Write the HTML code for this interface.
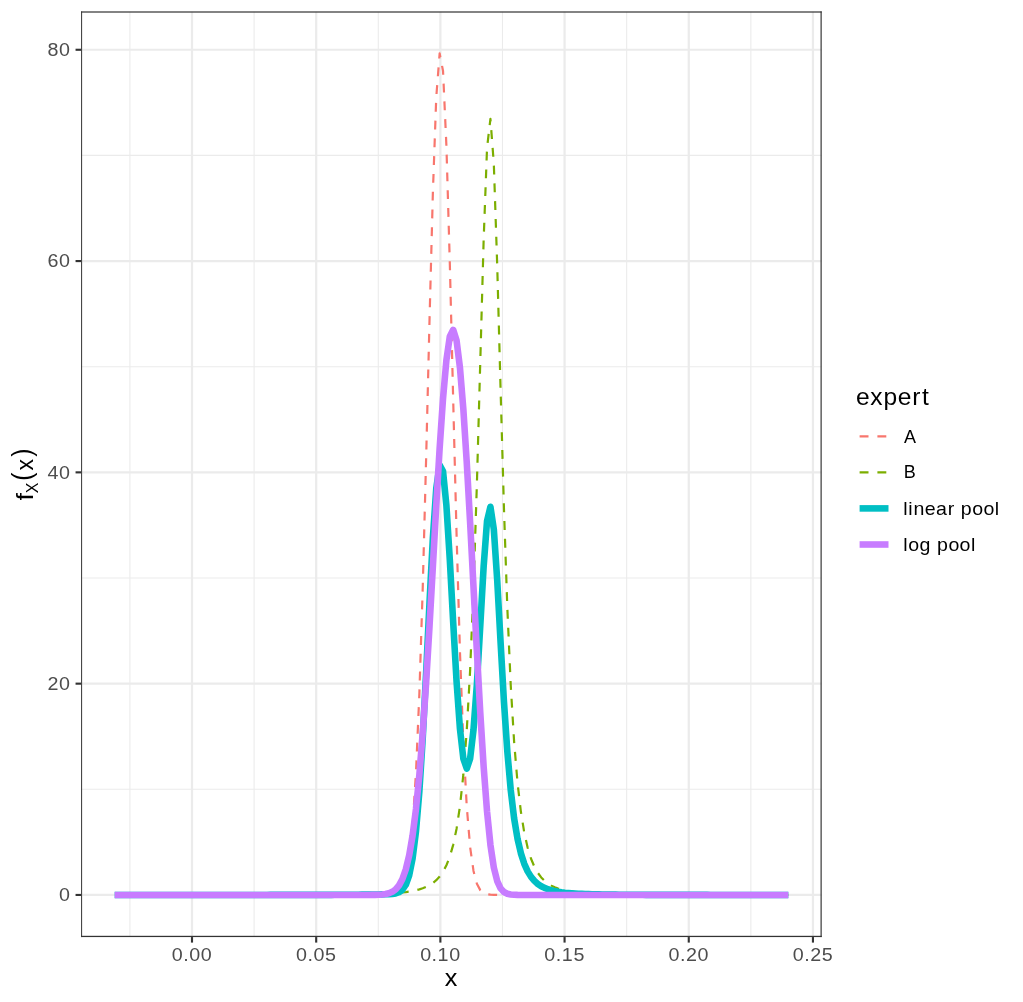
<!DOCTYPE html>
<html><head><meta charset="utf-8"><title>pooling</title>
<style>html,body{margin:0;padding:0;background:#fff;}svg{display:block;}text{font-family:"Liberation Sans",sans-serif;}svg{filter:opacity(1);}</style></head><body>
<svg width="1023" height="1002" viewBox="0 0 1023 1002">
<rect x="0" y="0" width="1023" height="1002" fill="#ffffff"/>
<defs><clipPath id="pc"><rect x="81.10" y="11.40" width="740.60" height="925.65"/></clipPath></defs>
<g clip-path="url(#pc)">
<g stroke="#EBEBEB" stroke-width="1.1" fill="none">
<line x1="129.91" x2="129.91" y1="11.40" y2="937.05"/>
<line x1="254.09" x2="254.09" y1="11.40" y2="937.05"/>
<line x1="378.28" x2="378.28" y1="11.40" y2="937.05"/>
<line x1="502.48" x2="502.48" y1="11.40" y2="937.05"/>
<line x1="626.66" x2="626.66" y1="11.40" y2="937.05"/>
<line x1="750.86" x2="750.86" y1="11.40" y2="937.05"/>
<line x1="81.10" x2="821.70" y1="789.31" y2="789.31"/>
<line x1="81.10" x2="821.70" y1="578.01" y2="578.01"/>
<line x1="81.10" x2="821.70" y1="366.72" y2="366.72"/>
<line x1="81.10" x2="821.70" y1="155.42" y2="155.42"/>
</g>
<g stroke="#EBEBEB" stroke-width="2.2" fill="none">
<line x1="192.00" x2="192.00" y1="11.40" y2="937.05"/>
<line x1="316.19" x2="316.19" y1="11.40" y2="937.05"/>
<line x1="440.38" x2="440.38" y1="11.40" y2="937.05"/>
<line x1="564.57" x2="564.57" y1="11.40" y2="937.05"/>
<line x1="688.76" x2="688.76" y1="11.40" y2="937.05"/>
<line x1="812.95" x2="812.95" y1="11.40" y2="937.05"/>
<line x1="81.10" x2="821.70" y1="894.96" y2="894.96"/>
<line x1="81.10" x2="821.70" y1="683.66" y2="683.66"/>
<line x1="81.10" x2="821.70" y1="472.36" y2="472.36"/>
<line x1="81.10" x2="821.70" y1="261.07" y2="261.07"/>
<line x1="81.10" x2="821.70" y1="49.77" y2="49.77"/>
</g>
<g fill="none" stroke-linejoin="round" stroke-linecap="butt">
<path d="M114.68,894.96 L118.07,894.96 L121.45,894.96 L124.84,894.96 L128.22,894.96 L131.61,894.96 L134.99,894.96 L138.38,894.96 L141.76,894.96 L145.15,894.96 L148.53,894.96 L151.92,894.96 L155.30,894.96 L158.69,894.96 L162.07,894.96 L165.46,894.96 L168.84,894.96 L172.23,894.96 L175.61,894.96 L179.00,894.96 L182.38,894.96 L185.77,894.96 L189.15,894.96 L192.54,894.96 L195.92,894.96 L199.31,894.96 L202.69,894.96 L206.08,894.96 L209.46,894.96 L212.85,894.96 L216.23,894.96 L219.62,894.96 L223.00,894.96 L226.39,894.96 L229.77,894.96 L233.16,894.96 L236.54,894.96 L239.93,894.96 L243.31,894.96 L246.70,894.96 L250.09,894.96 L253.47,894.96 L256.86,894.96 L260.24,894.96 L263.63,894.96 L267.01,894.96 L270.40,894.96 L273.78,894.96 L277.17,894.96 L280.55,894.96 L283.94,894.96 L287.32,894.96 L290.71,894.96 L294.09,894.96 L297.48,894.96 L300.86,894.96 L304.25,894.96 L307.63,894.96 L311.02,894.96 L314.40,894.96 L317.79,894.96 L321.17,894.96 L324.56,894.96 L327.94,894.96 L331.33,894.96 L334.71,894.96 L338.10,894.96 L341.48,894.96 L344.87,894.96 L348.25,894.96 L351.64,894.96 L355.02,894.96 L358.41,894.96 L361.79,894.96 L365.18,894.96 L368.56,894.96 L371.95,894.96 L375.33,894.96 L378.72,894.96 L382.10,894.95 L385.49,894.91 L388.88,894.80 L392.26,894.50 L395.65,893.68 L399.03,891.66 L402.42,887.08 L405.80,877.49 L409.19,859.00 L412.57,826.25 L415.96,773.08 L419.34,694.23 L422.73,588.04 L426.11,459.28 L429.50,320.79 L432.88,192.46 L436.27,96.99 L439.65,53.45 L443.04,71.08 L446.42,146.10 L449.81,263.02 L453.19,399.88 L456.58,534.87 L459.96,651.81 L463.35,742.52 L466.73,806.24 L470.12,847.02 L473.50,870.91 L476.89,883.76 L480.27,890.12 L483.66,893.02 L487.04,894.24 L490.43,894.71 L493.81,894.88 L497.20,894.94 L500.58,894.95 L503.97,894.96 L507.35,894.96 L510.74,894.96 L514.12,894.96 L517.51,894.96 L520.90,894.96 L524.28,894.96 L527.67,894.96 L531.05,894.96 L534.44,894.96 L537.82,894.96 L541.21,894.96 L544.59,894.96 L547.98,894.96 L551.36,894.96 L554.75,894.96 L558.13,894.96 L561.52,894.96 L564.90,894.96 L568.29,894.96 L571.67,894.96 L575.06,894.96 L578.44,894.96 L581.83,894.96 L585.21,894.96 L588.60,894.96 L591.98,894.96 L595.37,894.96 L598.75,894.96 L602.14,894.96 L605.52,894.96 L608.91,894.96 L612.29,894.96 L615.68,894.96 L619.06,894.96 L622.45,894.96 L625.83,894.96 L629.22,894.96 L632.60,894.96 L635.99,894.96 L639.37,894.96 L642.76,894.96 L646.14,894.96 L649.53,894.96 L652.91,894.96 L656.30,894.96 L659.69,894.96 L663.07,894.96 L666.46,894.96 L669.84,894.96 L673.23,894.96 L676.61,894.96 L680.00,894.96 L683.38,894.96 L686.77,894.96 L690.15,894.96 L693.54,894.96 L696.92,894.96 L700.31,894.96 L703.69,894.96 L707.08,894.96 L710.46,894.96 L713.85,894.96 L717.23,894.96 L720.62,894.96 L724.00,894.96 L727.39,894.96 L730.77,894.96 L734.16,894.96 L737.54,894.96 L740.93,894.96 L744.31,894.96 L747.70,894.96 L751.08,894.96 L754.47,894.96 L757.85,894.96 L761.24,894.96 L764.62,894.96 L768.01,894.96 L771.39,894.96 L774.78,894.96 L778.16,894.96 L781.55,894.96 L784.93,894.96 L788.32,894.96" stroke="#F8766D" stroke-width="2.2" stroke-dasharray="8.89 8.89" stroke-dashoffset="17.04"/>
<path d="M114.68,894.95 L118.07,894.95 L121.45,894.95 L124.84,894.95 L128.22,894.95 L131.61,894.95 L134.99,894.95 L138.38,894.95 L141.76,894.95 L145.15,894.95 L148.53,894.95 L151.92,894.95 L155.30,894.95 L158.69,894.95 L162.07,894.95 L165.46,894.95 L168.84,894.94 L172.23,894.94 L175.61,894.94 L179.00,894.94 L182.38,894.94 L185.77,894.94 L189.15,894.94 L192.54,894.94 L195.92,894.94 L199.31,894.94 L202.69,894.94 L206.08,894.93 L209.46,894.93 L212.85,894.93 L216.23,894.93 L219.62,894.93 L223.00,894.93 L226.39,894.93 L229.77,894.92 L233.16,894.92 L236.54,894.92 L239.93,894.92 L243.31,894.92 L246.70,894.91 L250.09,894.91 L253.47,894.91 L256.86,894.90 L260.24,894.90 L263.63,894.90 L267.01,894.89 L270.40,894.89 L273.78,894.89 L277.17,894.88 L280.55,894.88 L283.94,894.87 L287.32,894.86 L290.71,894.86 L294.09,894.85 L297.48,894.84 L300.86,894.83 L304.25,894.82 L307.63,894.81 L311.02,894.80 L314.40,894.79 L317.79,894.78 L321.17,894.76 L324.56,894.75 L327.94,894.73 L331.33,894.71 L334.71,894.69 L338.10,894.66 L341.48,894.63 L344.87,894.60 L348.25,894.57 L351.64,894.53 L355.02,894.48 L358.41,894.43 L361.79,894.38 L365.18,894.32 L368.56,894.24 L371.95,894.16 L375.33,894.06 L378.72,893.95 L382.10,893.83 L385.49,893.68 L388.88,893.51 L392.26,893.31 L395.65,893.07 L399.03,892.79 L402.42,892.45 L405.80,892.05 L409.19,891.57 L412.57,890.98 L415.96,890.27 L419.34,889.39 L422.73,888.30 L426.11,886.93 L429.50,885.21 L432.88,883.02 L436.27,880.20 L439.65,876.53 L443.04,871.70 L446.42,865.27 L449.81,856.63 L453.19,844.85 L456.58,828.65 L459.96,806.15 L463.35,774.74 L466.73,730.88 L470.12,670.26 L473.50,588.60 L476.89,484.02 L480.27,361.71 L483.66,239.42 L487.04,147.91 L490.43,118.80 L493.81,163.65 L497.20,264.94 L500.58,389.51 L503.97,508.92 L507.35,608.56 L510.74,685.29 L514.12,741.83 L517.51,782.59 L520.90,811.77 L524.28,832.69 L527.67,847.78 L531.05,858.76 L534.44,866.85 L537.82,872.88 L541.21,877.42 L544.59,880.88 L547.98,883.55 L551.36,885.63 L554.75,887.26 L558.13,888.56 L561.52,889.60 L564.90,890.44 L568.29,891.12 L571.67,891.68 L575.06,892.15 L578.44,892.53 L581.83,892.85 L585.21,893.12 L588.60,893.35 L591.98,893.55 L595.37,893.71 L598.75,893.86 L602.14,893.98 L605.52,894.09 L608.91,894.18 L612.29,894.26 L615.68,894.33 L619.06,894.39 L622.45,894.45 L625.83,894.49 L629.22,894.54 L632.60,894.58 L635.99,894.61 L639.37,894.64 L642.76,894.67 L646.14,894.69 L649.53,894.71 L652.91,894.73 L656.30,894.75 L659.69,894.77 L663.07,894.78 L666.46,894.79 L669.84,894.81 L673.23,894.82 L676.61,894.83 L680.00,894.84 L683.38,894.84 L686.77,894.85 L690.15,894.86 L693.54,894.87 L696.92,894.87 L700.31,894.88 L703.69,894.88 L707.08,894.89 L710.46,894.89 L713.85,894.89 L717.23,894.90 L720.62,894.90 L724.00,894.91 L727.39,894.91 L730.77,894.91 L734.16,894.91 L737.54,894.92 L740.93,894.92 L744.31,894.92 L747.70,894.92 L751.08,894.92 L754.47,894.93 L757.85,894.93 L761.24,894.93 L764.62,894.93 L768.01,894.93 L771.39,894.93 L774.78,894.93 L778.16,894.94 L781.55,894.94 L784.93,894.94 L788.32,894.94" stroke="#7CAE00" stroke-width="2.2" stroke-dasharray="8.89 8.89" stroke-dashoffset="17.06"/>
<path d="M114.68,894.96 L118.07,894.96 L121.45,894.96 L124.84,894.96 L128.22,894.96 L131.61,894.96 L134.99,894.95 L138.38,894.95 L141.76,894.95 L145.15,894.95 L148.53,894.95 L151.92,894.95 L155.30,894.95 L158.69,894.95 L162.07,894.95 L165.46,894.95 L168.84,894.95 L172.23,894.95 L175.61,894.95 L179.00,894.95 L182.38,894.95 L185.77,894.95 L189.15,894.95 L192.54,894.95 L195.92,894.95 L199.31,894.95 L202.69,894.95 L206.08,894.95 L209.46,894.95 L212.85,894.95 L216.23,894.95 L219.62,894.94 L223.00,894.94 L226.39,894.94 L229.77,894.94 L233.16,894.94 L236.54,894.94 L239.93,894.94 L243.31,894.94 L246.70,894.94 L250.09,894.94 L253.47,894.93 L256.86,894.93 L260.24,894.93 L263.63,894.93 L267.01,894.93 L270.40,894.92 L273.78,894.92 L277.17,894.92 L280.55,894.92 L283.94,894.91 L287.32,894.91 L290.71,894.91 L294.09,894.90 L297.48,894.90 L300.86,894.90 L304.25,894.89 L307.63,894.89 L311.02,894.88 L314.40,894.88 L317.79,894.87 L321.17,894.86 L324.56,894.85 L327.94,894.84 L331.33,894.83 L334.71,894.82 L338.10,894.81 L341.48,894.80 L344.87,894.78 L348.25,894.76 L351.64,894.74 L355.02,894.72 L358.41,894.70 L361.79,894.67 L365.18,894.64 L368.56,894.60 L371.95,894.56 L375.33,894.51 L378.72,894.46 L382.10,894.39 L385.49,894.30 L388.88,894.16 L392.26,893.90 L395.65,893.37 L399.03,892.22 L402.42,889.77 L405.80,884.77 L409.19,875.29 L412.57,858.62 L415.96,831.67 L419.34,791.81 L422.73,738.17 L426.11,673.11 L429.50,603.00 L432.88,537.74 L436.27,488.59 L439.65,464.99 L443.04,471.39 L446.42,505.69 L449.81,559.83 L453.19,622.37 L456.58,681.76 L459.96,728.98 L463.35,758.63 L466.73,768.56 L470.12,758.64 L473.50,729.75 L476.89,683.89 L480.27,625.92 L483.66,566.22 L487.04,521.07 L490.43,506.75 L493.81,529.27 L497.20,579.94 L500.58,642.23 L503.97,701.94 L507.35,751.76 L510.74,790.13 L514.12,818.39 L517.51,838.78 L520.90,853.37 L524.28,863.82 L527.67,871.37 L531.05,876.86 L534.44,880.91 L537.82,883.92 L541.21,886.19 L544.59,887.92 L547.98,889.26 L551.36,890.29 L554.75,891.11 L558.13,891.76 L561.52,892.28 L564.90,892.70 L568.29,893.04 L571.67,893.32 L575.06,893.55 L578.44,893.75 L581.83,893.91 L585.21,894.04 L588.60,894.16 L591.98,894.25 L595.37,894.34 L598.75,894.41 L602.14,894.47 L605.52,894.52 L608.91,894.57 L612.29,894.61 L615.68,894.64 L619.06,894.68 L622.45,894.70 L625.83,894.73 L629.22,894.75 L632.60,894.77 L635.99,894.78 L639.37,894.80 L642.76,894.81 L646.14,894.83 L649.53,894.84 L652.91,894.85 L656.30,894.85 L659.69,894.86 L663.07,894.87 L666.46,894.88 L669.84,894.88 L673.23,894.89 L676.61,894.89 L680.00,894.90 L683.38,894.90 L686.77,894.91 L690.15,894.91 L693.54,894.91 L696.92,894.92 L700.31,894.92 L703.69,894.92 L707.08,894.92 L710.46,894.93 L713.85,894.93 L717.23,894.93 L720.62,894.93 L724.00,894.93 L727.39,894.93 L730.77,894.94 L734.16,894.94 L737.54,894.94 L740.93,894.94 L744.31,894.94 L747.70,894.94 L751.08,894.94 L754.47,894.94 L757.85,894.94 L761.24,894.94 L764.62,894.95 L768.01,894.95 L771.39,894.95 L774.78,894.95 L778.16,894.95 L781.55,894.95 L784.93,894.95 L788.32,894.95" stroke="#00BFC4" stroke-width="6.6"/>
<path d="M114.68,894.96 L118.07,894.96 L121.45,894.96 L124.84,894.96 L128.22,894.96 L131.61,894.96 L134.99,894.96 L138.38,894.96 L141.76,894.96 L145.15,894.96 L148.53,894.96 L151.92,894.96 L155.30,894.96 L158.69,894.96 L162.07,894.96 L165.46,894.96 L168.84,894.96 L172.23,894.96 L175.61,894.96 L179.00,894.96 L182.38,894.96 L185.77,894.96 L189.15,894.96 L192.54,894.96 L195.92,894.96 L199.31,894.96 L202.69,894.96 L206.08,894.96 L209.46,894.96 L212.85,894.96 L216.23,894.96 L219.62,894.96 L223.00,894.96 L226.39,894.96 L229.77,894.96 L233.16,894.96 L236.54,894.96 L239.93,894.96 L243.31,894.96 L246.70,894.96 L250.09,894.96 L253.47,894.96 L256.86,894.96 L260.24,894.96 L263.63,894.96 L267.01,894.96 L270.40,894.96 L273.78,894.96 L277.17,894.96 L280.55,894.96 L283.94,894.96 L287.32,894.96 L290.71,894.96 L294.09,894.96 L297.48,894.96 L300.86,894.96 L304.25,894.96 L307.63,894.96 L311.02,894.96 L314.40,894.96 L317.79,894.96 L321.17,894.96 L324.56,894.96 L327.94,894.96 L331.33,894.96 L334.71,894.96 L338.10,894.96 L341.48,894.96 L344.87,894.96 L348.25,894.96 L351.64,894.96 L355.02,894.96 L358.41,894.96 L361.79,894.96 L365.18,894.95 L368.56,894.94 L371.95,894.91 L375.33,894.86 L378.72,894.74 L382.10,894.51 L385.49,894.07 L388.88,893.26 L392.26,891.82 L395.65,889.37 L399.03,885.35 L402.42,879.01 L405.80,869.39 L409.19,855.34 L412.57,835.66 L415.96,809.17 L419.34,774.98 L422.73,732.73 L426.11,682.80 L429.50,626.55 L432.88,566.35 L436.27,505.53 L439.65,448.09 L443.04,398.25 L446.42,360.00 L449.81,336.53 L453.19,329.85 L456.58,340.54 L459.96,367.72 L463.35,409.25 L466.73,462.07 L470.12,522.58 L473.50,586.99 L476.89,651.54 L480.27,712.63 L483.66,766.88 L487.04,811.49 L490.43,844.91 L493.81,867.43 L497.20,881.01 L500.58,888.38 L503.97,892.05 L507.35,893.73 L510.74,894.47 L514.12,894.77 L517.51,894.89 L520.90,894.93 L524.28,894.95 L527.67,894.96 L531.05,894.96 L534.44,894.96 L537.82,894.96 L541.21,894.96 L544.59,894.96 L547.98,894.96 L551.36,894.96 L554.75,894.96 L558.13,894.96 L561.52,894.96 L564.90,894.96 L568.29,894.96 L571.67,894.96 L575.06,894.96 L578.44,894.96 L581.83,894.96 L585.21,894.96 L588.60,894.96 L591.98,894.96 L595.37,894.96 L598.75,894.96 L602.14,894.96 L605.52,894.96 L608.91,894.96 L612.29,894.96 L615.68,894.96 L619.06,894.96 L622.45,894.96 L625.83,894.96 L629.22,894.96 L632.60,894.96 L635.99,894.96 L639.37,894.96 L642.76,894.96 L646.14,894.96 L649.53,894.96 L652.91,894.96 L656.30,894.96 L659.69,894.96 L663.07,894.96 L666.46,894.96 L669.84,894.96 L673.23,894.96 L676.61,894.96 L680.00,894.96 L683.38,894.96 L686.77,894.96 L690.15,894.96 L693.54,894.96 L696.92,894.96 L700.31,894.96 L703.69,894.96 L707.08,894.96 L710.46,894.96 L713.85,894.96 L717.23,894.96 L720.62,894.96 L724.00,894.96 L727.39,894.96 L730.77,894.96 L734.16,894.96 L737.54,894.96 L740.93,894.96 L744.31,894.96 L747.70,894.96 L751.08,894.96 L754.47,894.96 L757.85,894.96 L761.24,894.96 L764.62,894.96 L768.01,894.96 L771.39,894.96 L774.78,894.96 L778.16,894.96 L781.55,894.96 L784.93,894.96 L788.32,894.96" stroke="#C77CFF" stroke-width="6.6"/>
</g>
</g>
<g fill="#333333">
<rect x="81.1" y="11.4" width="1.0" height="925.67"/>
<rect x="820.53" y="11.4" width="1.17" height="925.67"/>
<rect x="81.1" y="11.4" width="740.6" height="1.2"/>
<rect x="81.1" y="935.8" width="740.6" height="1.27"/>
</g>
<g stroke="#333333" stroke-width="2.13" fill="none">
<line x1="192.00" x2="192.00" y1="937.05" y2="942.60"/>
<line x1="316.19" x2="316.19" y1="937.05" y2="942.60"/>
<line x1="440.38" x2="440.38" y1="937.05" y2="942.60"/>
<line x1="564.57" x2="564.57" y1="937.05" y2="942.60"/>
<line x1="688.76" x2="688.76" y1="937.05" y2="942.60"/>
<line x1="812.95" x2="812.95" y1="937.05" y2="942.60"/>
<line x1="75.55" x2="81.10" y1="894.96" y2="894.96"/>
<line x1="75.55" x2="81.10" y1="683.66" y2="683.66"/>
<line x1="75.55" x2="81.10" y1="472.36" y2="472.36"/>
<line x1="75.55" x2="81.10" y1="261.07" y2="261.07"/>
<line x1="75.55" x2="81.10" y1="49.77" y2="49.77"/>
</g>
<text transform="scale(1.0800,1)" x="159.05 169.67 175.21 185.99" y="960.70" font-size="18.25" fill="#4D4D4D">0.00</text>
<text transform="scale(1.0800,1)" x="274.04 284.66 290.20 300.98" y="960.70" font-size="18.25" fill="#4D4D4D">0.05</text>
<text transform="scale(1.0800,1)" x="389.03 399.65 405.19 415.97" y="960.70" font-size="18.25" fill="#4D4D4D">0.10</text>
<text transform="scale(1.0800,1)" x="504.02 514.64 520.19 530.96" y="960.70" font-size="18.25" fill="#4D4D4D">0.15</text>
<text transform="scale(1.0800,1)" x="619.01 629.63 635.18 645.95" y="960.70" font-size="18.25" fill="#4D4D4D">0.20</text>
<text transform="scale(1.0800,1)" x="734.00 744.62 750.17 760.94" y="960.70" font-size="18.25" fill="#4D4D4D">0.25</text>
<text transform="scale(1.0800,1)" x="54.72" y="901.26" font-size="18.25" fill="#4D4D4D">0</text>
<text transform="scale(1.0800,1)" x="43.95 54.72" y="689.96" font-size="18.25" fill="#4D4D4D">20</text>
<text transform="scale(1.0800,1)" x="43.95 54.72" y="478.66" font-size="18.25" fill="#4D4D4D">40</text>
<text transform="scale(1.0800,1)" x="43.95 54.72" y="267.37" font-size="18.25" fill="#4D4D4D">60</text>
<text transform="scale(1.0800,1)" x="43.95 54.72" y="56.07" font-size="18.25" fill="#4D4D4D">80</text>
<g fill="#000000" font-size="23">
<text x="451.1" y="985.5" text-anchor="middle" textLength="12.6" lengthAdjust="spacingAndGlyphs">x</text>
<g transform="translate(32.7,500.9) rotate(-90)">
<text transform="translate(4.1,0) scale(1.15,1)" x="0" y="0" text-anchor="middle">f</text>
<text x="13.0" y="4.9" text-anchor="middle" font-size="16">X</text>
<text transform="translate(24.3,-1.7) scale(0.88,1)" x="0" y="0" text-anchor="middle" font-size="28">(</text>
<text x="36.1" y="0" text-anchor="middle">x</text>
<text transform="translate(48.2,-1.7) scale(0.88,1)" x="0" y="0" text-anchor="middle" font-size="28">)</text>
</g>
</g>
<text transform="scale(1.0700,1)" x="799.91 813.39 825.79 839.07 852.55 861.72" y="404.60" font-size="23.00" fill="#000000">expert</text>
<g fill="none" stroke-linecap="butt">
<line x1="859.6" x2="888.5" y1="436.4" y2="436.4" stroke="#F8766D" stroke-width="2.2" stroke-dasharray="8.9 8.9"/>
<line x1="859.6" x2="888.5" y1="472.4" y2="472.4" stroke="#7CAE00" stroke-width="2.2" stroke-dasharray="8.9 8.9"/>
<line x1="859.6" x2="888.5" y1="508.4" y2="508.4" stroke="#00BFC4" stroke-width="6.6"/>
<line x1="859.6" x2="888.5" y1="544.5" y2="544.5" stroke="#C77CFF" stroke-width="6.6"/>
</g>
<text transform="scale(1.0000,1)" x="904.11" y="442.50" font-size="18.00" fill="#000000">A</text>
<text transform="scale(1.0000,1)" x="903.77" y="478.30" font-size="18.00" fill="#000000">B</text>
<text transform="scale(1.0700,1)" x="844.18 848.93 853.68 864.36 874.86 885.65 892.39 898.00 908.66 919.13 929.79" y="514.60" font-size="18.30" fill="#000000">linear&#160;pool</text>
<text transform="scale(1.0700,1)" x="844.18 848.73 859.40 870.09 875.69 886.36 896.83 907.49" y="550.70" font-size="18.30" fill="#000000">log&#160;pool</text>
</svg></body></html>
